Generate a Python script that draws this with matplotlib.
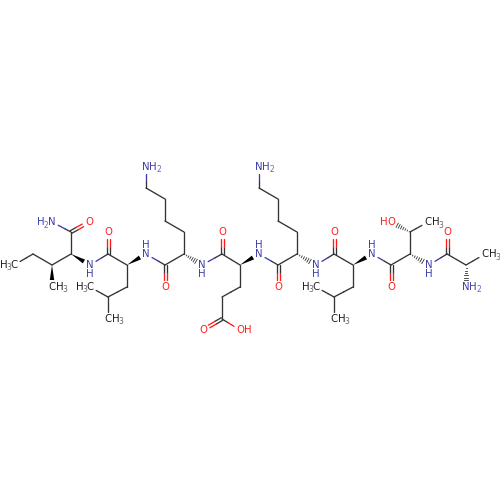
"""Peptide skeletal structure, drawn in pixel coordinates of a 500x500 canvas."""

import matplotlib

matplotlib.use("Agg")
import matplotlib.pyplot as plt
import numpy as np
from matplotlib.patches import Polygon

plt.rcParams["font.family"] = ["DejaVu Sans"]

# heavy atoms: pixel position and label ("" = plain carbon vertex)
atom_x = [14, 33, 52, 52, 71, 71, 89, 52, 90, 108, 108, 127, 127, 108, 90, 108,
          146, 165, 165, 184, 184, 165, 165, 146, 146, 202, 222, 222, 240, 240, 222, 222,
          203, 240, 259, 278, 278, 297, 297, 278, 278, 259, 259, 316, 334, 334, 353, 353,
          334, 316, 334, 372, 391, 391, 410, 410, 391, 428, 429, 447, 447, 466, 485, 466]
atom_y = [265, 254, 265, 287, 254, 232, 222, 222, 265, 254, 232, 265, 287, 297, 287, 319,
          254, 265, 287, 254, 232, 221, 199, 188, 167, 265, 254, 232, 265, 287, 297, 319,
          330, 330, 254, 265, 287, 254, 232, 221, 199, 188, 167, 265, 254, 232, 265, 287,
          297, 287, 319, 254, 265, 287, 254, 232, 222, 222, 265, 254, 232, 265, 254, 287]
atom_label = ["H3C", "", "", "CH3", "", "", "O", "H2N", "NHd", "", "O", "", "", "", "H3C", "CH3",
              "NHu", "", "O", "", "", "", "", "", "NH2", "NHd", "", "O", "", "", "", "",
              "O", "OH", "NHu", "", "O", "", "", "", "", "", "NH2", "NHd", "", "O", "", "",
              "", "H3C", "CH3", "NHu", "", "O", "", "", "HO", "CH3", "NHd", "", "O", "", "CH3", "NH2"]

# bonds: s = single, d = double, w = wedge, h = hash (narrow end first)
single_bonds = [(0, 1), (1, 2), (2, 4), (4, 5), (5, 7), (8, 9), (9, 11), (11, 12), (12, 13),
                (13, 14), (13, 15), (16, 17), (17, 19), (19, 20), (20, 21), (21, 22), (22, 23),
                (23, 24), (25, 26), (26, 28), (28, 29), (29, 30), (30, 31), (31, 33), (34, 35),
                (35, 37), (37, 38), (38, 39), (39, 40), (40, 41), (41, 42), (43, 44), (44, 46),
                (46, 47), (47, 48), (48, 49), (48, 50), (51, 52), (52, 54), (54, 55), (55, 57),
                (58, 59), (59, 61), (61, 62)]
double_bonds = [(5, 6), (9, 10), (17, 18), (26, 27), (31, 32), (35, 36), (44, 45), (52, 53), (59, 60)]
wedge_bonds = [(2, 3), (4, 8), (11, 16), (28, 34), (46, 51)]
hash_bonds = [(19, 25), (37, 43), (54, 58), (55, 56), (61, 63)]

CARBON = "#333333"
NITROGEN = "#3c3ca8"
OXYGEN = "#ff1a1a"
FONT = 7.3


def atom_color(i):
    label = atom_label[i]
    if label.startswith(("N", "H2N")):
        return NITROGEN
    if "O" in label:
        return OXYGEN
    return CARBON


def trimmed(a, b, gap=7.0):
    """Bond end points, pulled back from any labelled atom."""
    pa, pb = np.array([atom_x[a], atom_y[a]], float), np.array([atom_x[b], atom_y[b]], float)
    u = (pb - pa) / np.linalg.norm(pb - pa)
    if atom_label[a]:
        pa = pa + u * gap
    if atom_label[b]:
        pb = pb - u * gap
    return pa, pb


def draw_line(ax, a, b, pa, pb):
    mid = (pa + pb) / 2
    ax.plot([pa[0], mid[0]], [pa[1], mid[1]], color=atom_color(a), lw=0.95, solid_capstyle="round")
    ax.plot([mid[0], pb[0]], [mid[1], pb[1]], color=atom_color(b), lw=0.95, solid_capstyle="round")


def draw_text(ax, x, y, s, color):
    # carbon and hydrogen on carbon read darker than the bonds
    if color == CARBON:
        color = "#1a1a1a"
    ax.text(x, y, s, color=color, fontsize=FONT, ha="center", va="center")


def draw_sub(ax, x, y, s, color):
    ax.text(x, y, s, color=color, fontsize=FONT * 0.75, ha="center", va="center")


def draw_label(ax, i):
    x, y, label = atom_x[i], atom_y[i], atom_label[i]
    col = atom_color(i)
    if label == "O":
        draw_text(ax, x, y, "O", col)
    elif label == "OH":
        draw_text(ax, x, y, "O", col)
        draw_text(ax, x + 7.5, y, "H", col)
    elif label == "HO":
        draw_text(ax, x, y, "O", col)
        draw_text(ax, x - 7, y, "H", col)
    elif label == "NHd":
        draw_text(ax, x, y, "N", col)
        draw_text(ax, x, y + 9, "H", col)
    elif label == "NHu":
        draw_text(ax, x, y, "N", col)
        draw_text(ax, x, y - 9, "H", col)
    elif label == "NH2":
        draw_text(ax, x, y, "N", col)
        draw_text(ax, x + 7.2, y, "H", col)
        draw_sub(ax, x + 13, y + 3, "2", "#6666cc")
    elif label == "H2N":
        draw_text(ax, x, y, "N", col)
        draw_text(ax, x - 11.5, y, "H", col)
        draw_sub(ax, x - 5.8, y + 3, "2", "#6666cc")
    elif label == "CH3":
        draw_text(ax, x, y, "C", col)
        draw_text(ax, x + 7.5, y, "H", col)
        draw_sub(ax, x + 13, y + 3, "3", "#666666")
    elif label == "H3C":
        draw_text(ax, x, y, "C", col)
        draw_text(ax, x - 10.5, y, "H", col)
        draw_sub(ax, x - 5.5, y + 3, "3", "#666666")


fig = plt.figure(figsize=(5, 5), dpi=100)
ax = fig.add_axes([0, 0, 1, 1])
ax.set_xlim(0, 500)
ax.set_ylim(500, 0)
ax.axis("off")

for a, b in single_bonds:
    pa, pb = trimmed(a, b)
    draw_line(ax, a, b, pa, pb)

for a, b in double_bonds:
    pa, pb = trimmed(a, b)
    u = (pb - pa) / np.linalg.norm(pb - pa)
    n = np.array([-u[1], u[0]]) * 1.5
    draw_line(ax, a, b, pa + n, pb + n)
    draw_line(ax, a, b, pa - n, pb - n)

for a, b in wedge_bonds:
    pa, pb = trimmed(a, b)
    u = (pb - pa) / np.linalg.norm(pb - pa)
    n = np.array([-u[1], u[0]]) * 2.2
    ax.add_patch(Polygon([pa, pb + n, pb - n], closed=True, color="black", lw=0))

for a, b in hash_bonds:
    pa, pb = trimmed(a, b)
    u = (pb - pa) / np.linalg.norm(pb - pa)
    n = np.array([-u[1], u[0]])
    for f in np.linspace(0.05, 1, 7):
        c = pa + (pb - pa) * f
        w = 2.4 * f
        ax.plot([c[0] - n[0] * w, c[0] + n[0] * w], [c[1] - n[1] * w, c[1] + n[1] * w],
                color=CARBON, lw=0.6)

for i in range(len(atom_x)):
    if atom_label[i]:
        draw_label(ax, i)

fig.savefig("out.png", dpi=100, facecolor="white")
